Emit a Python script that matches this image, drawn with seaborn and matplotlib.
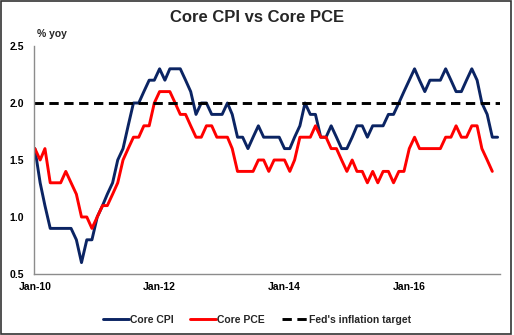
import pandas as pd
import matplotlib
matplotlib.use("Agg")
import matplotlib.pyplot as plt
import seaborn as sns
from matplotlib.patches import Rectangle

# Monthly year-over-year rates, starting January 2010
core_cpi = [
    1.6, 1.3, 1.1, 0.9, 0.9, 0.9, 0.9, 0.9, 0.8, 0.6, 0.8, 0.8,   # 2010
    1.0, 1.1, 1.2, 1.3, 1.5, 1.6, 1.8, 2.0, 2.0, 2.1, 2.2, 2.2,   # 2011
    2.3, 2.2, 2.3, 2.3, 2.3, 2.2, 2.1, 1.9, 2.0, 2.0, 1.9, 1.9,   # 2012
    1.9, 2.0, 1.9, 1.7, 1.7, 1.6, 1.7, 1.8, 1.7, 1.7, 1.7, 1.7,   # 2013
    1.6, 1.6, 1.7, 1.8, 2.0, 1.9, 1.9, 1.7, 1.7, 1.8, 1.7, 1.6,   # 2014
    1.6, 1.7, 1.8, 1.8, 1.7, 1.8, 1.8, 1.8, 1.9, 1.9, 2.0, 2.1,   # 2015
    2.2, 2.3, 2.2, 2.1, 2.2, 2.2, 2.2, 2.3, 2.2, 2.1, 2.1, 2.2,   # 2016
    2.3, 2.2, 2.0, 1.9, 1.7, 1.7,                                 # 2017
]
core_pce = [
    1.6, 1.5, 1.6, 1.3, 1.3, 1.3, 1.4, 1.3, 1.2, 1.0, 1.0, 0.9,   # 2010
    1.0, 1.1, 1.1, 1.2, 1.3, 1.5, 1.6, 1.7, 1.7, 1.8, 1.8, 2.0,   # 2011
    2.1, 2.1, 2.1, 2.0, 1.9, 1.9, 1.8, 1.7, 1.7, 1.8, 1.8, 1.7,   # 2012
    1.7, 1.7, 1.6, 1.4, 1.4, 1.4, 1.4, 1.5, 1.5, 1.4, 1.5, 1.5,   # 2013
    1.5, 1.4, 1.5, 1.7, 1.7, 1.7, 1.8, 1.7, 1.7, 1.6, 1.6, 1.5,   # 2014
    1.4, 1.5, 1.4, 1.4, 1.3, 1.4, 1.3, 1.4, 1.4, 1.3, 1.4, 1.4,   # 2015
    1.6, 1.7, 1.6, 1.6, 1.6, 1.6, 1.6, 1.7, 1.7, 1.8, 1.7, 1.7,   # 2016
    1.8, 1.8, 1.6, 1.5, 1.4,                                      # 2017
]
fed_target = 2.0
start_month = "2010-01"
tick_labels = ["Jan-10", "Jan-12", "Jan-14", "Jan-16"]
y_ticks = [0.5, 1.0, 1.5, 2.0, 2.5]

cpi_dates = pd.date_range(start_month, periods=len(core_cpi), freq="MS")
pce_dates = pd.date_range(start_month, periods=len(core_pce), freq="MS")
tick_dates = pd.to_datetime(tick_labels, format="%b-%y")

sns.set_theme(style="white")
plt.rcParams["font.family"] = ["Liberation Sans", "DejaVu Sans"]
plt.rcParams["font.weight"] = "bold"

W, H = 514, 335
fig = plt.figure(figsize=(W / 100, H / 100), dpi=100)
ax = fig.add_axes([34 / W, 1 - 274 / H, 466 / W, 228 / H])

NAVY = "#0B2463"
RED = "#FF0000"
LW = 2.1

sns.lineplot(x=cpi_dates, y=core_cpi, ax=ax, color=NAVY, lw=LW, label="Core CPI")
sns.lineplot(x=pce_dates, y=core_pce, ax=ax, color=RED, lw=LW, label="Core PCE")
ax.axhline(fed_target, color="black", lw=LW, ls=(0, (3.2, 1.9)),
           label="Fed's inflation target")

ax.set_ylim(y_ticks[0], y_ticks[-1])
ax.set_yticks(y_ticks)
ax.set_yticklabels([f"{v:.1f}" for v in y_ticks])
ax.set_xlim(cpi_dates[0] - pd.Timedelta(days=5), cpi_dates[-1] + pd.Timedelta(days=14))
ax.set_xticks(tick_dates)
ax.set_xticklabels(tick_labels)
ax.set_xlabel("")
ax.set_ylabel("")

sns.despine(ax=ax)
for side in ("left", "bottom"):
    ax.spines[side].set_color("#8c8c8c")
    ax.spines[side].set_linewidth(1.0)
ax.tick_params(axis="x", direction="out", length=3, width=1, color="#8c8c8c",
               labelsize=7.5, pad=2.5, labelcolor="black")
ax.tick_params(axis="y", length=0, labelsize=7.5, pad=7, labelcolor="black")
for lab in ax.get_xticklabels() + ax.get_yticklabels():
    lab.set_fontweight("bold")

ax.get_legend().remove()
handles, labels = ax.get_legend_handles_labels()
fig.legend(handles, labels, loc="center", bbox_to_anchor=(0.5, 1 - 320 / H),
           ncol=3, frameon=False, fontsize=7.5, handlelength=2.5,
           handletextpad=0.1, columnspacing=1.6, prop={"weight": "bold", "size": 7.5})

fig.text(0.5, 1 - 17 / H, "Core CPI vs Core PCE", ha="center", va="center",
         fontsize=12, fontweight="bold")
fig.text(37 / W, 1 - 34 / H, "% yoy", ha="left", va="center",
         fontsize=7.5, fontweight="bold")

fig.patches.append(Rectangle((1 / W, 1 / H), 510 / W, 333 / H, fill=False,
                             edgecolor="#333333", lw=1.2,
                             transform=fig.transFigure, figure=fig))

fig.savefig("out.png", dpi=100)
